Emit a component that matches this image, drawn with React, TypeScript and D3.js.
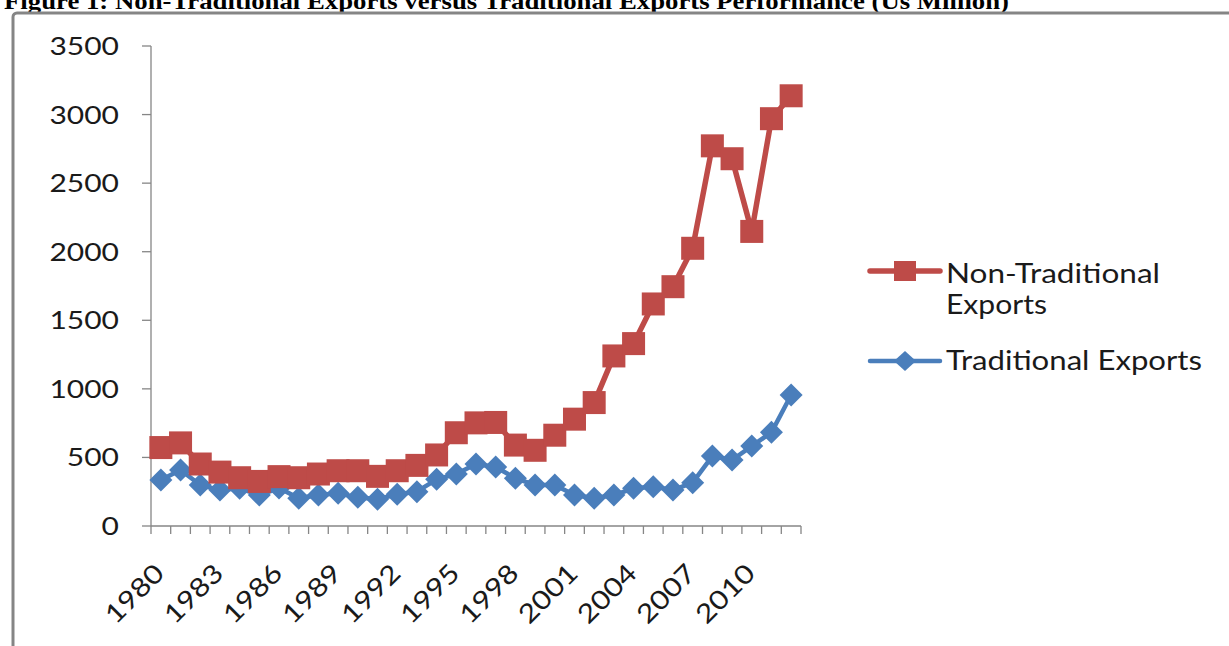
import React from "react";
import * as d3 from "d3";

const years: number[] = [
  1980, 1981, 1982, 1983, 1984, 1985, 1986, 1987, 1988, 1989, 1990, 1991, 1992,
  1993, 1994, 1995, 1996, 1997, 1998, 1999, 2000, 2001, 2002, 2003, 2004, 2005,
  2006, 2007, 2008, 2009, 2010, 2011, 2012,
];

const nonTraditional: number[] = [
  572, 606, 452, 393, 352, 325, 360, 352, 379, 403, 403, 362, 403, 442, 518, 680,
  752, 755, 590, 552, 662, 779, 900, 1240, 1330, 1619, 1745, 2025, 2772, 2678,
  2148, 2970, 3137,
];

const traditional: number[] = [
  335, 408, 299, 262, 275, 226, 277, 202, 226, 238, 209, 195, 231, 250, 340, 379,
  452, 430, 348, 299, 299, 226, 202, 226, 275, 287, 262, 316, 510, 481, 583, 683,
  955,
];

const yTicks: number[] = [0, 500, 1000, 1500, 2000, 2500, 3000, 3500];
const xLabelYears: number[] = [1980, 1983, 1986, 1989, 1992, 1995, 1998, 2001, 2004, 2007, 2010];

const titleText =
  "Figure 1: Non-Traditional Exports versus Traditional Exports Performance (Us Million)";

const RED = "#BE4B48";
const BLUE = "#4A7EBB";
const AXIS = "#868686";
const FONT = "Lato, 'Open Sans', 'Liberation Sans', sans-serif";

export default function App() {
  const W = 1229;
  const H = 646;
  const x = d3.scaleBand<number>().domain(years).range([151, 801]).padding(0);
  const y = d3.scaleLinear().domain([0, 3500]).range([526, 46]);
  const cx = (yr: number) => (x(yr) as number) + x.bandwidth() / 2;

  const line = d3
    .line<number>()
    .x((_, i) => cx(years[i]))
    .y((v) => y(v));

  const boundaries = d3.range(years.length + 1).map((i) => 151 + i * x.bandwidth());
  const sq = 23;
  const dm = 11.5;

  return (
    <svg
      width={W}
      height={H}
      viewBox={`0 0 ${W} ${H}`}
      style={{ position: "absolute", left: 0, top: 0, background: "#fff" }}
    >
      <rect x={0} y={0} width={W} height={H} fill="#fff" />
      {/* title (cropped at top, as in the source) */}
      <text
        x={4}
        y={9}
        fontFamily="'Liberation Serif', 'Times New Roman', serif"
        fontWeight="bold"
        fontSize={24}
        textLength={1005}
        lengthAdjust="spacingAndGlyphs"
        fill="#000"
      >
        {titleText}
      </text>
      {/* chart frame */}
      <rect
        x={13}
        y={13}
        width={1400}
        height={800}
        rx={4}
        fill="none"
        stroke="#858585"
        strokeWidth={3}
      />

      {/* axes */}
      <line x1={151} y1={y(3500)} x2={151} y2={y(0)} stroke={AXIS} strokeWidth={1.3} />
      <line x1={151} y1={y(0)} x2={801} y2={y(0)} stroke={AXIS} strokeWidth={1.3} />
      {yTicks.map((t) => (
        <g key={"yt" + t}>
          <line x1={142} x2={151} y1={y(t)} y2={y(t)} stroke={AXIS} strokeWidth={1.3} />
          <text
            x={119}
            y={y(t)}
            dy="0.36em"
            textAnchor="end"
            fontFamily={FONT}
            fontSize={25}
            textLength={String(t).length * 17.4}
            lengthAdjust="spacingAndGlyphs"
            fill="#1a1a1a"
          >
            {t}
          </text>
        </g>
      ))}
      {boundaries.map((bx, i) => (
        <line key={"xt" + i} x1={bx} x2={bx} y1={y(0)} y2={y(0) + 8} stroke={AXIS} strokeWidth={1.3} />
      ))}
      {xLabelYears.map((yr) => {
        const ax = cx(yr) + 5;
        const ay = 575;
        return (
          <text
            key={"xl" + yr}
            x={ax}
            y={ay}
            transform={`rotate(-45 ${ax} ${ay})`}
            textAnchor="end"
            fontFamily={FONT}
            fontSize={26}
            textLength={71}
            lengthAdjust="spacingAndGlyphs"
            fill="#1a1a1a"
          >
            {yr}
          </text>
        );
      })}

      {/* Traditional series */}
      <path d={line(traditional) || ""} fill="none" stroke={BLUE} strokeWidth={4.5} strokeLinejoin="round" />
      {traditional.map((v, i) => {
        const px = cx(years[i]);
        const py = y(v);
        return (
          <path
            key={"td" + i}
            d={`M${px},${py - dm}L${px + dm},${py}L${px},${py + dm}L${px - dm},${py}Z`}
            fill={BLUE}
          />
        );
      })}

      {/* Non-Traditional series */}
      <path d={line(nonTraditional) || ""} fill="none" stroke={RED} strokeWidth={5.5} strokeLinejoin="round" />
      {nonTraditional.map((v, i) => (
        <rect
          key={"nt" + i}
          x={cx(years[i]) - sq / 2}
          y={y(v) - sq / 2}
          width={sq}
          height={sq}
          fill={RED}
        />
      ))}

      {/* legend */}
      <line x1={870} x2={940} y1={271} y2={271} stroke={RED} strokeWidth={5.5} strokeLinecap="round" />
      <rect x={894} y={261} width={22} height={20} fill={RED} />
      <text x={946} y={283} fontFamily={FONT} fontSize={26} textLength={214} lengthAdjust="spacingAndGlyphs" fill="#1a1a1a">
        Non-Traditional
      </text>
      <text x={946} y={314} fontFamily={FONT} fontSize={26} textLength={101} lengthAdjust="spacingAndGlyphs" fill="#1a1a1a">
        Exports
      </text>
      <line x1={870} x2={940} y1={361} y2={361} stroke={BLUE} strokeWidth={4.5} strokeLinecap="round" />
      <path d={`M905,${361 - 10}L${905 + 11},361L905,${361 + 10}L${905 - 11},361Z`} fill={BLUE} />
      <text x={946} y={370} fontFamily={FONT} fontSize={26} textLength={256} lengthAdjust="spacingAndGlyphs" fill="#1a1a1a">
        Traditional Exports
      </text>
    </svg>
  );
}
